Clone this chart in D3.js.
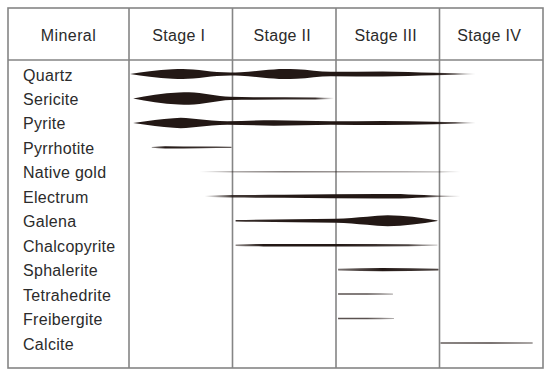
<!DOCTYPE html>
<html>
<head>
<meta charset="utf-8">
<script src="https://cdn.jsdelivr.net/npm/d3@7"></script>
<style>
  body { margin: 0; background: #fff; }
  svg text { font-family: "Liberation Sans", Arial, sans-serif; fill: #2b2b2b; }
</style>
</head>
<body>
<div id="chart"></div>
<script>
const stages = ['Stage I', 'Stage II', 'Stage III', 'Stage IV']
const minerals = ['Quartz', 'Sericite', 'Pyrite', 'Pyrrhotite', 'Native gold', 'Electrum',
    'Galena', 'Chalcopyrite', 'Sphalerite', 'Tetrahedrite', 'Freibergite', 'Calcite']

// each profile point: [position in stages (0-4), relative thickness, intensity]
const quartz = [[0.01, 0, 1], [0.2, 5.5, 1], [0.42, 9.5, 1], [0.52, 10, 1], [0.62, 9, 1], [0.85, 4, 1],
    [0.98, 3, 1], [1.08, 3.5, 1], [1.3, 7.5, 1], [1.5, 10, 1], [1.62, 9.5, 1], [1.95, 4.5, 1],
    [2.45, 5, 1], [2.95, 2.5, 1], [3.15, 1.5, 0.7], [3.35, 0.6, 0]]
const sericite = [[0.04, 0, 1], [0.25, 7.5, 1], [0.48, 12, 1], [0.58, 12.5, 1], [0.68, 11, 1],
    [0.88, 5, 1], [0.98, 3.2, 1], [1.2, 2.5, 1], [1.8, 2, 0.9], [1.98, 1.2, 0]]
const pyrite = [[0.04, 0, 1], [0.25, 6, 1], [0.43, 9.5, 1], [0.5, 10.5, 1], [0.6, 9, 1], [0.8, 5, 1],
    [0.95, 3.5, 1], [1.4, 5.5, 1], [1.95, 3.5, 1], [2.45, 4, 1], [2.95, 2.5, 1], [3.15, 1.6, 0.7],
    [3.35, 0.6, 0]]
const pyrrhotite = [[0.22, 0.8, 0.5], [0.35, 2.4, 1], [0.7, 1.6, 0.9], [0.99, 1.2, 0.7]]
const nativeGold = [[0.68, 1, 0], [1.0, 1.4, 0.35], [1.5, 1.6, 0.55], [2.3, 1.4, 0.4], [3.0, 1.2, 0.3], [3.2, 1, 0]]
const electrum = [[0.73, 1, 0], [1.0, 2.4, 0.85], [1.5, 3, 1], [2.4, 4.5, 1], [2.55, 4.5, 1], [2.85, 2.4, 1],
    [3.0, 1.4, 0.5], [3.2, 1, 0]]
const galena = [[1.03, 1.5, 0.9], [1.6, 3, 1], [2.0, 4, 1], [2.3, 8, 1], [2.5, 11, 1], [2.98, 0.6, 1]]
const chalcopyrite = [[1.03, 1.4, 0.5], [1.3, 2.4, 1], [2.0, 2.6, 1], [2.7, 2, 0.8], [2.98, 1.2, 0.2]]
const sphalerite = [[2.02, 1.8, 0.6], [2.45, 3.4, 1], [2.99, 1.8, 0.8]]
const tetrahedrite = [[2.02, 1.5, 0.75], [2.3, 1.5, 0.75], [2.55, 1.1, 0.35]]
const freibergite = [[2.02, 1.5, 0.75], [2.3, 1.5, 0.75], [2.56, 1.1, 0.35]]
const calcite = [[3.01, 1.6, 0.7], [3.5, 1.7, 0.8], [3.9, 1.3, 0.5]]

const profiles = [quartz, sericite, pyrite, pyrrhotite, nativeGold, electrum,
    galena, chalcopyrite, sphalerite, tetrahedrite, freibergite, calcite]

const width = 550
const height = 377
const frame = {left: 8, right: 543, top: 8, head: 60, bottom: 368}
const firstCol = 129
const ink = '#231815'
const gridColor = '#858585'

const svg = d3.select('#chart')
    .append('svg')
    .attr('width', width)
    .attr('height', height)

const x = d3.scaleLinear()
    .domain([0, stages.length])
    .range([firstCol, frame.right])

const y = d3.scalePoint()
    .domain(minerals)
    .range([74, 343])

const thick = d3.scaleLinear()
    .domain([0, 10])
    .range([0, 10])

const defs = svg.append('defs')

// table lines
const grid = svg.append('g').attr('class', 'grid')
    .attr('stroke', gridColor)
    .attr('stroke-width', 1.6)
    .attr('fill', 'none')

grid.append('rect')
    .attr('x', frame.left)
    .attr('y', frame.top)
    .attr('width', frame.right - frame.left)
    .attr('height', frame.bottom - frame.top)

grid.append('line')
    .attr('x1', frame.left).attr('x2', frame.right)
    .attr('y1', frame.head).attr('y2', frame.head)

grid.selectAll('.col')
    .data(d3.range(stages.length))
    .join('line')
    .attr('class', 'col')
    .attr('x1', d => x(d)).attr('x2', d => x(d))
    .attr('y1', frame.top).attr('y2', frame.bottom)

// header
const head = svg.append('g').attr('class', 'head')
    .attr('font-size', 16)
    .attr('text-anchor', 'middle')

head.append('text')
    .attr('x', (frame.left + firstCol) / 2)
    .attr('y', 41)
    .attr('letter-spacing', 0.4)
    .text('Mineral')

head.selectAll('.stage')
    .data(stages)
    .join('text')
    .attr('class', 'stage')
    .attr('x', (d, i) => x(i + 0.5) - 2)
    .attr('y', 41)
    .attr('letter-spacing', 0.3)
    .text(d => d)

// mineral labels
svg.append('g').attr('class', 'labels')
    .attr('font-size', 16)
    .selectAll('text')
    .data(minerals)
    .join('text')
    .attr('x', 23)
    .attr('y', d => y(d) + 6.5)
    .attr('letter-spacing', 0.3)
    .text(d => d)

// spindles
const rows = minerals.map((m, i) => ({name: m, id: 'g' + i, pts: profiles[i]}))

rows.forEach(r => {
    const xs = r.pts.map(p => x(p[0]))
    const x0 = d3.min(xs)
    const x1 = d3.max(xs)
    const grad = defs.append('linearGradient')
        .attr('id', r.id)
        .attr('gradientUnits', 'userSpaceOnUse')
        .attr('x1', x0).attr('x2', x1)
        .attr('y1', 0).attr('y2', 0)
    grad.selectAll('stop')
        .data(r.pts)
        .join('stop')
        .attr('offset', p => (x(p[0]) - x0) / (x1 - x0))
        .attr('stop-color', ink)
        .attr('stop-opacity', p => p[2])
})

const area = d3.area()
    .curve(d3.curveMonotoneX)

svg.append('g').attr('class', 'spindles')
    .selectAll('path')
    .data(rows)
    .join('path')
    .attr('fill', d => `url(#${d.id})`)
    .attr('d', d => area
        .x(p => x(p[0]))
        .y0(p => y(d.name) - thick(p[1]) / 2)
        .y1(p => y(d.name) + thick(p[1]) / 2)(d.pts))
</script>
</body>
</html>
